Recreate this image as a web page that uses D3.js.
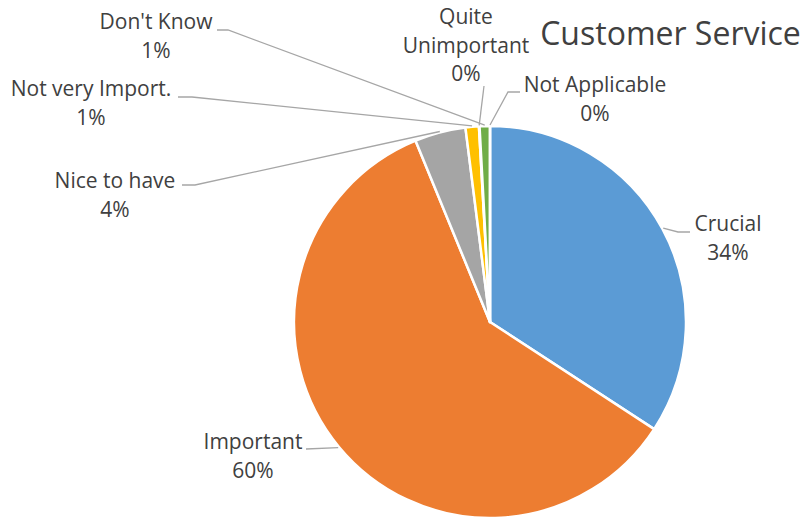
<!DOCTYPE html>
<html><head><meta charset="utf-8">
<script src="https://cdn.jsdelivr.net/npm/d3@7"></script>
<style>body{margin:0;background:#fff}svg{display:block}</style>
</head><body>
<svg id="c" width="809" height="519"></svg>
<script>
const title = "Customer Service";
const categories = ["Crucial","Important","Nice to have","Not very Import.","Quite Unimportant","Don't Know","Not Applicable"];
const values = [34.2, 59.6, 4.2, 1.1, 0.05, 0.85, 0.0];
const percentLabels = ["34%","60%","4%","1%","0%","1%","0%"];
const colors = ["#5B9BD5","#ED7D31","#A5A5A5","#FFC000","#4472C4","#70AD47","#264478"];

// label layout: text lines, center x, first baseline, elbow points
const labelLayout = [
  {lines:["Crucial"], cx:728, y:231, elbow:[[678,232],[690,232]]},
  {lines:["Important"], cx:253, y:449, elbow:[[306,449]]},
  {lines:["Nice to have"], cx:115, y:188, elbow:[[195,185],[182,185]]},
  {lines:["Not very Import."], cx:91, y:96, elbow:[[192,97],[178,97]]},
  {lines:["Quite","Unimportant"], cx:466, y:24, elbow:[[484,86]]},
  {lines:["Don't Know"], cx:156, y:29, elbow:[[228,30],[217,30]]},
  {lines:["Not Applicable"], cx:595, y:92, elbow:[[508,92],[520,92]]}
];

const svg = d3.select("#c");
const cx = 490, cy = 322, r = 196;
const font = "'Open Sans', sans-serif";
const textColor = "#404040";

const pie = d3.pie().sort(null).value(d => d)(values);
const arc = d3.arc().innerRadius(0).outerRadius(r);

const g = svg.append("g").attr("transform", `translate(${cx},${cy})`);
g.selectAll("path.slice").data(pie).join("path")
  .attr("class","slice")
  .attr("d", arc)
  .attr("fill", (d,i) => colors[i])
  .attr("stroke", "#fff")
  .attr("stroke-width", 2.5)
  .attr("stroke-linejoin","round");

// leader lines
pie.forEach((d,i) => {
  const L = labelLayout[i];
  const a = (d.startAngle + d.endAngle) / 2;
  const px = cx + (r + 1) * Math.sin(a);
  const py = cy - (r + 1) * Math.cos(a);
  const pts = [[px, py]].concat(L.elbow);
  svg.append("path")
    .attr("d", d3.line()(pts))
    .attr("fill","none")
    .attr("stroke","#A6A6A6")
    .attr("stroke-width",1.3);
});

// labels
labelLayout.forEach((L,i) => {
  const lines = L.lines.concat([percentLabels[i]]);
  const t = svg.append("text")
    .attr("text-anchor","middle")
    .attr("font-family", font)
    .attr("font-size", 21)
    .attr("fill", textColor);
  lines.forEach((s,k) => {
    t.append("tspan").attr("x", L.cx).attr("y", L.y + k*28.5).text(s);
  });
});

svg.append("text")
  .attr("x", 670.5).attr("y", 45)
  .attr("text-anchor","middle")
  .attr("font-family", font)
  .attr("font-size", 32)
  .attr("fill", textColor)
  .text(title);
</script>
</body></html>
